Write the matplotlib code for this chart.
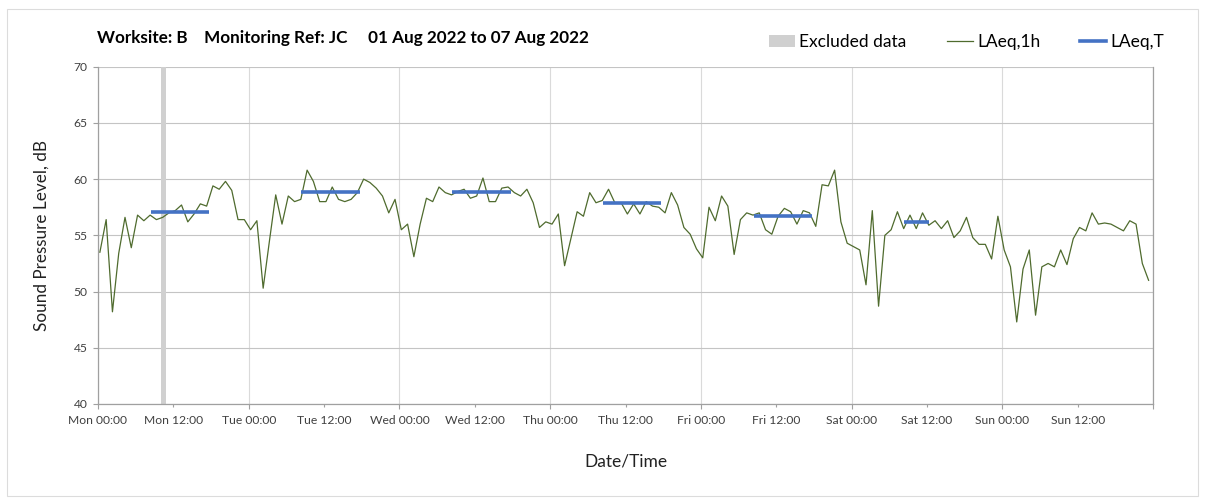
import numpy as np
import matplotlib.pyplot as plt
from matplotlib.patches import Rectangle, Patch
from matplotlib.lines import Line2D

plt.rcParams['font.family'] = ['Lato', 'DejaVu Sans']

# Hourly LAeq,1h values, Mon 01 Aug 00:00 onwards
laeq_1h = [
    53.5, 56.4, 48.2, 53.4, 56.6, 53.9, 56.8, 56.3, 56.8, 56.4, 56.6, 57.0,
    57.2, 57.7, 56.2, 56.9, 57.8, 57.6, 59.4, 59.1, 59.8, 59.0, 56.4, 56.4,
    55.5, 56.3, 50.3, 54.5, 58.6, 56.0, 58.5, 58.0, 58.2, 60.8, 59.8, 58.0,
    58.0, 59.3, 58.2, 58.0, 58.2, 58.8, 60.0, 59.7, 59.2, 58.5, 57.0, 58.2,
    55.5, 56.0, 53.1, 56.0, 58.3, 58.0, 59.3, 58.8, 58.6, 58.9, 59.1, 58.3,
    58.5, 60.1, 58.0, 58.0, 59.2, 59.3, 58.8, 58.5, 59.1, 57.9, 55.7, 56.2,
    56.0, 56.9, 52.3, 54.7, 57.1, 56.7, 58.8, 57.9, 58.1, 59.1, 57.9, 57.9,
    56.9, 57.8, 56.9, 58.0, 57.6, 57.5, 57.0, 58.8, 57.7, 55.7, 55.1, 53.8,
    53.0, 57.5, 56.3, 58.5, 57.6, 53.3, 56.4, 57.0, 56.8, 57.0, 55.5, 55.1,
    56.7, 57.4, 57.1, 56.0, 57.2, 57.0, 55.8, 59.5, 59.4, 60.8, 56.2, 54.3,
    54.0, 53.7, 50.6, 57.2, 48.7, 55.0, 55.5, 57.1, 55.6, 56.8, 55.6, 57.0,
    55.9, 56.3, 55.6, 56.3, 54.8, 55.4, 56.6, 54.8, 54.2, 54.2, 52.9, 56.7,
    53.7, 52.2, 47.3, 52.0, 53.7, 47.9, 52.2, 52.5, 52.2, 53.7, 52.4, 54.7,
    55.7, 55.4, 57.0, 56.0, 56.1, 56.0, 55.7, 55.4, 56.3, 56.0, 52.5, 51.0,
]
hours = np.arange(len(laeq_1h)) + 0.3

# LAeq,T over the working period of each day (Mon..Sat)
laeq_t_day = [0, 1, 2, 3, 4, 5]
laeq_t_start = [8.4, 8.4, 8.4, 8.4, 8.4, 8.3]
laeq_t_end = [17.7, 17.7, 17.7, 17.7, 17.7, 12.4]
laeq_t = [57.1, 58.85, 58.85, 57.9, 56.7, 56.2]

# Excluded period (hours from Mon 00:00)
excluded = [(10.0, 10.9)]

day_names = ['Mon', 'Tue', 'Wed', 'Thu', 'Fri', 'Sat', 'Sun']

green = '#4f6b2e'
blue = '#4472c4'
grey = '#d0d0d0'

fig = plt.figure(figsize=(12.05, 4.98), dpi=100)
ax = fig.add_axes([98 / 1205, 94 / 498, 1055 / 1205, 337.3 / 498])

for x0, x1 in excluded:
    ax.axvspan(x0, x1, color=grey, lw=0, zorder=1)

ax.plot(hours, laeq_1h, color=green, lw=0.9, zorder=3)

for d, s, e, v in zip(laeq_t_day, laeq_t_start, laeq_t_end, laeq_t):
    ax.plot([d * 24 + s, d * 24 + e], [v, v], color=blue, lw=2.6,
            solid_capstyle='butt', zorder=4)

ax.set_xlim(0, 168)
ax.set_ylim(40, 70)
ax.set_yticks(np.arange(40, 71, 5))

major = np.arange(0, 169, 24)
minor = np.arange(12, 168, 24)
ax.set_xticks(major)
ax.set_xticklabels([d + ' 00:00' for d in day_names] + [''])
ax.set_xticks(minor, minor=True)
ax.set_xticklabels([d + ' 12:00' for d in day_names], minor=True)

ax.tick_params(axis='x', which='major', length=3.6, width=0.8,
               color='#a0a0a0', pad=4, labelsize=8.7, labelcolor='#404040')
ax.tick_params(axis='x', which='minor', length=1.8, width=0.8,
               color='#a0a0a0', pad=5.8, labelsize=8.7, labelcolor='#404040')
ax.tick_params(axis='y', length=3.6, width=0.8, color='#a0a0a0', pad=4,
               labelsize=8.7, labelcolor='#404040')

ax.grid(axis='y', color='#c4c4c4', lw=0.8, zorder=0)
ax.grid(axis='x', which='major', color='#dadada', lw=0.8, zorder=0)
ax.set_axisbelow(True)

for side in ['left', 'bottom', 'right']:
    ax.spines[side].set_color('#a0a0a0')
    ax.spines[side].set_linewidth(0.9)
ax.spines['top'].set_visible(False)

ax.set_ylabel('Sound Pressure Level, dB', fontsize=12.3, color='#222222',
              labelpad=17)
ax.set_xlabel('Date/Time', fontsize=12.5, color='#222222', labelpad=20)

fig.text(97 / 1205, 1 - 38 / 498,
         'Worksite: B    Monitoring Ref: JC     01 Aug 2022 to 07 Aug 2022',
         fontsize=12.3, fontweight='bold', va='center', ha='left')

handles = [Patch(facecolor=grey, edgecolor='none', label='Excluded data'),
           Line2D([], [], color=green, lw=0.9, label='LAeq,1h'),
           Line2D([], [], color=blue, lw=2.6, label='LAeq,T')]
fig.legend(handles=handles, loc='center right', ncol=3, frameon=False,
           bbox_to_anchor=(1180 / 1205, 1 - 42 / 498), fontsize=12.5,
           handlelength=1.5, handletextpad=0.25, columnspacing=2.3)

# chart area border
fig.patches.append(Rectangle((7 / 1205, 2 / 498), 1191 / 1205, 487 / 498,
                             transform=fig.transFigure, fill=False,
                             edgecolor='#dcdcdc', lw=0.8))

fig.savefig('out.png', dpi=100)
